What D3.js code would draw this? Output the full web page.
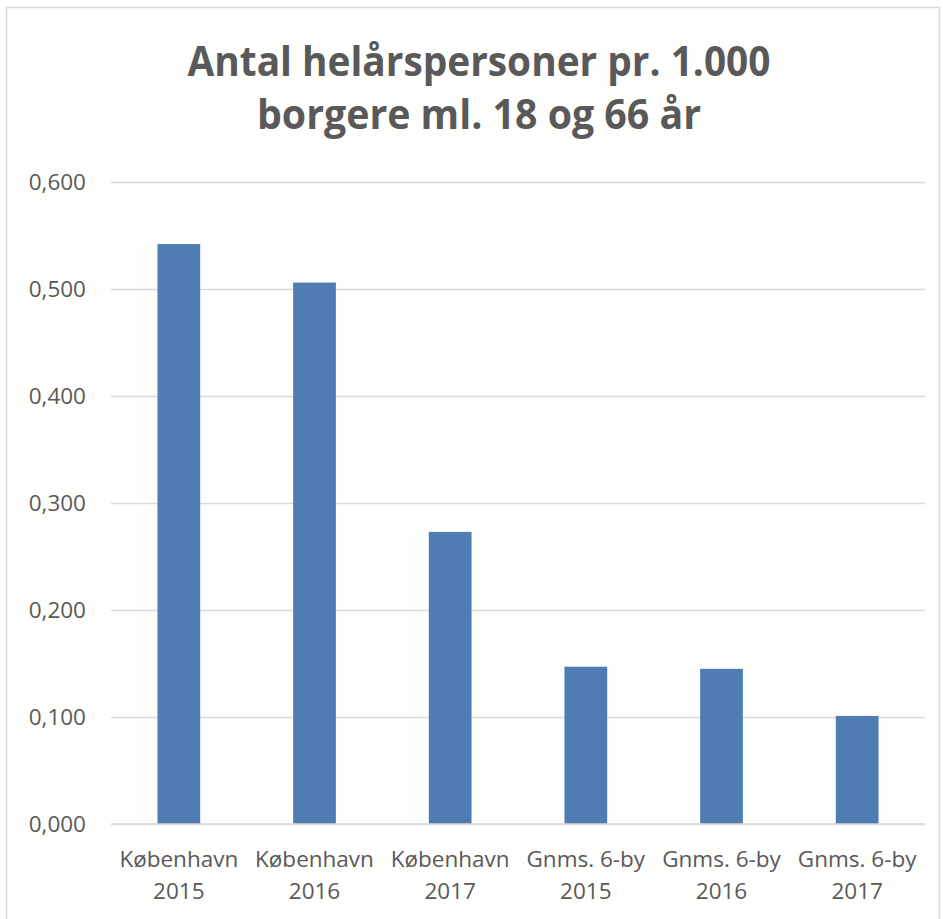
<!DOCTYPE html>
<html>
<head>
<meta charset="utf-8">
<script src="https://cdn.jsdelivr.net/npm/d3@7"></script>
<style>
  html, body { margin: 0; padding: 0; background: #ffffff; }
  svg { display: block; }
</style>
</head>
<body>
<svg id="chart" width="943" height="919"></svg>
<script>
const categoriesLine1 = ["København", "København", "København", "Gnms. 6-by", "Gnms. 6-by", "Gnms. 6-by"];
const categoriesLine2 = ["2015", "2016", "2017", "2015", "2016", "2017"];
const values = [0.542, 0.506, 0.273, 0.147, 0.145, 0.101];
const tickValues = [0, 0.1, 0.2, 0.3, 0.4, 0.5, 0.6];
const titleLines = ["Antal helårspersoner pr. 1.000", "borgere ml. 18 og 66 år"];
const titleWidths = [583, 444];

const W = 943, H = 919;
const svg = d3.select("#chart");
const textColor = "#595959";
const fontFamily = "'Open Sans', 'Noto Sans', sans-serif";

svg.append("rect").attr("x", 0).attr("y", 0).attr("width", W).attr("height", H).attr("fill", "#ffffff");
svg.append("rect").attr("x", 6.5).attr("y", 7.5).attr("width", 933).attr("height", 940)
  .attr("fill", "#fefefd").attr("stroke", "#d9d9d9").attr("stroke-width", 1.5);

const ids = values.map((d, i) => i);
const x = d3.scaleBand().domain(ids).range([111, 925]).paddingInner(0.685).paddingOuter(0.3425);
const y = d3.scaleLinear().domain([0, 0.6]).range([824, 182]);

// gridlines
const grid = d3.axisLeft(y).tickValues(tickValues).tickSize(-(925 - 111)).tickFormat("");
const gg = svg.append("g").attr("transform", "translate(111,0)").call(grid);
gg.select(".domain").remove();
gg.selectAll(".tick line").attr("stroke", "#d9d9d9").attr("stroke-width", 1.5);

// y labels
const fmt = v => d3.format(".3f")(v).replace(".", ",");
const ya = d3.axisLeft(y).tickValues(tickValues).tickSize(0).tickPadding(0).tickFormat(fmt);
const yg = svg.append("g").attr("transform", "translate(86,0)").call(ya);
yg.select(".domain").remove();
yg.selectAll(".tick text").attr("fill", textColor).style("font-family", fontFamily).style("font-size", "22.5px").attr("dy", "0.35em");

// bars
svg.append("g").selectAll("rect").data(values).join("rect")
  .attr("x", (d, i) => x(i))
  .attr("width", x.bandwidth())
  .attr("y", d => y(d))
  .attr("height", d => y(0) - y(d))
  .attr("fill", "#4e7cb3");

// baseline
svg.append("line").attr("x1", 111).attr("x2", 925).attr("y1", y(0)).attr("y2", y(0))
  .attr("stroke", "#d9d9d9").attr("stroke-width", 1.5);

// x labels
const xl = svg.append("g");
ids.forEach(i => {
  const cx = x(i) + x.bandwidth() / 2;
  const t = xl.append("text").attr("text-anchor", "middle").attr("fill", textColor)
    .style("font-family", fontFamily).style("font-size", "22.5px");
  t.append("tspan").attr("x", cx).attr("y", 867).text(categoriesLine1[i]);
  t.append("tspan").attr("x", cx).attr("y", 899).text(categoriesLine2[i]);
});

// title
const tg = svg.append("g");
titleLines.forEach((line, k) => {
  tg.append("text").attr("x", 479).attr("y", 76 + k * 53).attr("text-anchor", "middle")
    .attr("fill", textColor).style("font-family", fontFamily).style("font-weight", "bold")
    .style("font-size", "41px")
    .attr("textLength", titleWidths[k]).attr("lengthAdjust", "spacingAndGlyphs")
    .text(line);
});
</script>
</body>
</html>
